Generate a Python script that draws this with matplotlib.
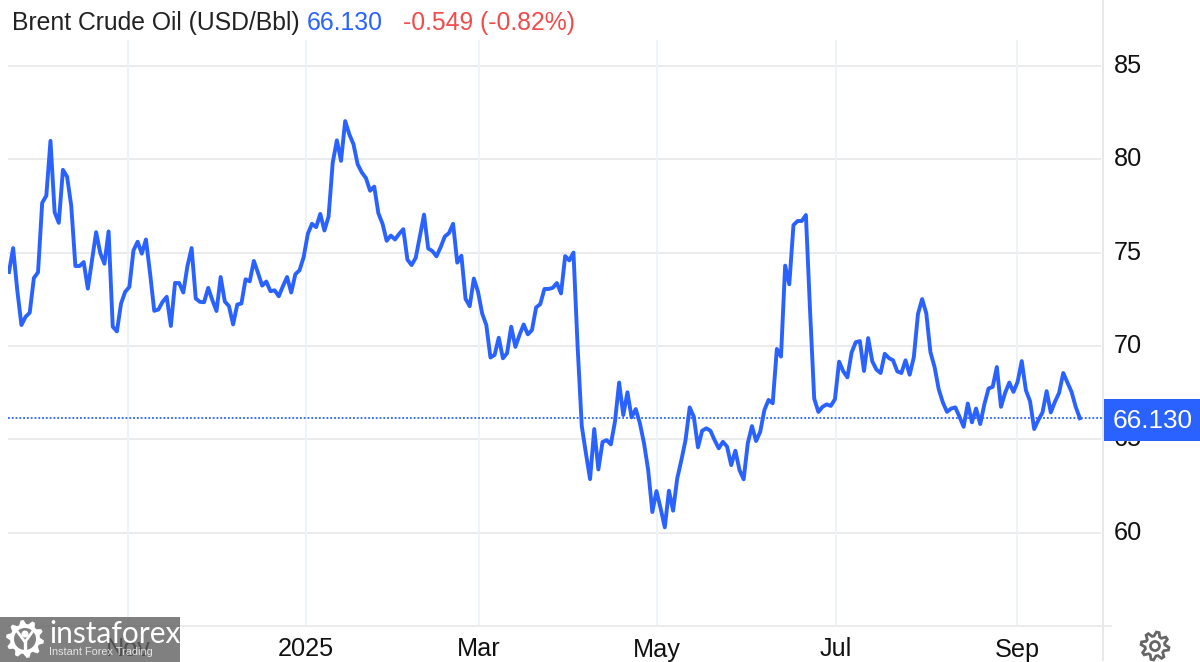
import matplotlib
import matplotlib.pyplot as plt
import numpy as np
import pandas as pd
from matplotlib.patches import Circle, Polygon, Rectangle
from matplotlib.transforms import ScaledTranslation

matplotlib.use("Agg")

plt.rcParams["font.family"] = ["Liberation Sans", "DejaVu Sans"]

BLUE = "#2962ff"
RED = "#f24b4b"
GRID = "#e7e8ea"
VGRID = "#eef3f8"
WM_GRAY = "#606060"

brent = [
    73.96, 75.24, 72.98, 71.12, 71.56, 71.78, 73.64, 73.94, 77.66, 78.05,
    80.98, 77.16, 76.59, 79.43, 79.06, 77.51, 74.28, 74.28, 74.49, 73.07,
    74.58, 76.09, 74.97, 74.40, 76.13, 71.03, 70.78, 72.27, 72.90, 73.16,
    75.12, 75.58, 74.94, 75.70, 73.87, 71.88, 71.95, 72.36, 72.63, 71.07,
    73.37, 73.37, 72.86, 74.28, 75.24, 72.54, 72.36, 72.34, 73.11, 72.45,
    71.87, 73.69, 72.38, 72.13, 71.15, 72.22, 72.27, 73.57, 73.46, 74.55,
    73.91, 73.23, 73.45, 72.93, 72.98, 72.66, 73.20, 73.69, 72.86, 73.84,
    74.05, 74.76, 76.00, 76.54, 76.36, 77.07, 76.18, 76.93, 79.82, 81.01,
    79.91, 82.04, 81.33, 80.80, 79.73, 79.29, 78.99, 78.31, 78.53, 77.10,
    76.54, 75.63, 75.91, 75.70, 76.00, 76.25, 74.62, 74.33, 74.72, 75.86,
    77.03, 75.22, 75.08, 74.80, 75.29, 75.86, 76.04, 76.54, 74.46, 74.83,
    72.52, 72.13, 73.61, 72.90, 71.74, 71.12, 69.38, 69.52, 70.44, 69.34,
    69.61, 71.03, 69.95, 70.59, 71.15, 70.62, 70.85, 72.06, 72.24, 73.05,
    73.05, 73.11, 73.37, 72.81, 74.81, 74.58, 75.00, 69.96, 65.71, 64.25,
    62.87, 65.55, 63.39, 64.86, 64.96, 64.73, 65.95, 68.04, 66.30, 67.52,
    66.18, 66.62, 65.86, 64.79, 63.36, 61.11, 62.23, 61.30, 60.29, 62.25,
    61.18, 62.91, 63.89, 64.96, 66.71, 66.21, 64.57, 65.46, 65.59, 65.46,
    64.96, 64.52, 64.87, 64.61, 63.62, 64.39, 63.36, 62.86, 64.79, 65.71,
    64.91, 65.41, 66.57, 67.11, 66.93, 69.84, 69.43, 74.30, 73.30, 76.47,
    76.69, 76.69, 77.01, 71.89, 67.18, 66.47, 66.74, 66.87, 66.79, 67.15,
    69.16, 68.64, 68.32, 69.64, 70.20, 70.26, 68.66, 70.42, 69.17, 68.73,
    68.55, 69.58, 69.35, 69.23, 68.64, 68.55, 69.23, 68.46, 69.40, 71.71,
    72.51, 71.75, 69.67, 68.87, 67.68, 66.97, 66.47, 66.65, 66.71, 66.21,
    65.67, 66.92, 65.91, 66.65, 65.82, 66.88, 67.72, 67.81, 68.87, 66.74,
    67.49, 68.04, 67.54, 68.07, 69.19, 67.63, 67.04, 65.55, 66.03, 66.44,
    67.58, 66.44, 67.01, 67.49, 68.55, 68.04, 67.54, 66.74, 66.13,
]

dates = pd.date_range("2024-09-21 08:00", "2025-09-22 12:00", periods=len(brent))
month_ticks = pd.to_datetime(["2024-11-01", "2025-01-01", "2025-03-01", "2025-05-01", "2025-07-01", "2025-09-01"])
month_labels = ["Nov", "2025", "Mar", "May", "Jul", "Sep"]
price_ticks = [60, 65, 70, 75, 80, 85]
last_price = 66.130


def gear(ax, cx, cy, r_out, r_in, teeth, **kw):
    # outline alternates between tooth tips and roots
    angles = np.linspace(0, 2 * np.pi, teeth * 4, endpoint=False) + np.pi / (teeth * 4)
    radius = np.tile([r_out, r_out, r_in, r_in], teeth)
    pts = np.column_stack([cx + radius * np.cos(angles), cy + radius * np.sin(angles)])
    ax.add_patch(Polygon(pts, closed=True, **kw))


fig = plt.figure(figsize=(12, 6.62), dpi=100)
W, H = 1200, 662

# main plot area in pixel terms: x 8-1103, y 40-625
ax = fig.add_axes([8 / W, 1 - 625 / H, (1103 - 8) / W, (625 - 40) / H])
ax.set_xlim(pd.Timestamp("2024-09-21 00:00"), pd.Timestamp("2025-09-30 10:00"))
ax.set_ylim(55.06, 86.38)
for side in ax.spines:
    ax.spines[side].set_visible(False)

ax.hlines(price_ticks, 0, 0.998, transform=ax.get_yaxis_transform(), color=GRID, lw=1.2, zorder=1)
ax.vlines(month_ticks, 0, 1, transform=ax.get_xaxis_transform(), color=VGRID, lw=1.4, zorder=1)
ax.axhline(last_price, color=BLUE, lw=1.3, ls=(0, (1, 1.1)), zorder=2)
ax.plot(dates, brent, color=BLUE, lw=2.8, solid_joinstyle="round", zorder=3)

ax.set_xticks(month_ticks)
ax.set_xticklabels(month_labels)
ax.yaxis.tick_right()
ax.set_yticks(price_ticks)
ax.tick_params(axis="x", length=0, pad=9, labelsize=18.2, labelcolor="#111111")
ax.tick_params(axis="y", length=0, pad=8, labelsize=18.2, labelcolor="#111111")

# price labels sit a little above their gridlines
nudge = ScaledTranslation(0, 2.5 / 100, fig.dpi_scale_trans)
for lbl in ax.get_yticklabels():
    lbl.set_transform(lbl.get_transform() + nudge)

# overlay in pixel coordinates for title, price flag and watermark
top = fig.add_axes([0, 0, 1, 1], facecolor="none")
top.set_xlim(0, W)
top.set_ylim(H, 0)
top.axis("off")

top.plot([1103, 1103], [0, 660], color=GRID, lw=1.4, zorder=1)
top.plot([8, 1111], [625.5, 625.5], color=GRID, lw=1.2, zorder=1)

top.text(12, 23, "Brent Crude Oil (USD/Bbl)", fontsize=17.8, color="#222222", va="center")
top.text(307, 23, "66.130", fontsize=17.8, color=BLUE, va="center")
top.text(403, 23, "-0.549 (-0.82%)", fontsize=17.8, color=RED, va="center")

top.add_patch(Rectangle((1104, 399), 96, 42, facecolor=BLUE, edgecolor="none", zorder=4))
top.text(1153, 420.5, "66.130", fontsize=18.8, color="white", ha="center", va="center", zorder=5)

# settings gear
gear(top, 1155, 646, 14, 10, 8, facecolor="none", edgecolor="#666666", lw=2)
top.add_patch(Circle((1155, 646), 4.5, facecolor="none", edgecolor="#666666", lw=2))

# watermark, translucent so the Nov label shows through
top.add_patch(Rectangle((0, 617), 180, 45, facecolor=WM_GRAY, alpha=0.8, edgecolor="none", zorder=6))
gear(top, 25, 639, 19, 15, 10, facecolor="white", edgecolor="none", zorder=7)
top.add_patch(Circle((25, 639), 11, facecolor="#808080", edgecolor="none", zorder=7))
top.add_patch(Circle((25, 634), 3.5, facecolor="white", edgecolor="none", zorder=8))
top.plot([17, 25, 33], [631, 642, 631], color="white", lw=2, zorder=8)
top.plot([25, 25], [642, 653], color="white", lw=2.4, zorder=8)
top.text(49, 634, "instaforex", fontsize=21.5, color="white", va="center", family="Lato", zorder=8)
top.text(49, 652, "Instant Forex Trading", fontsize=7.8, color="#e4e4e4", va="center", zorder=8)

fig.savefig("out.png", dpi=100)
plt.close(fig)
